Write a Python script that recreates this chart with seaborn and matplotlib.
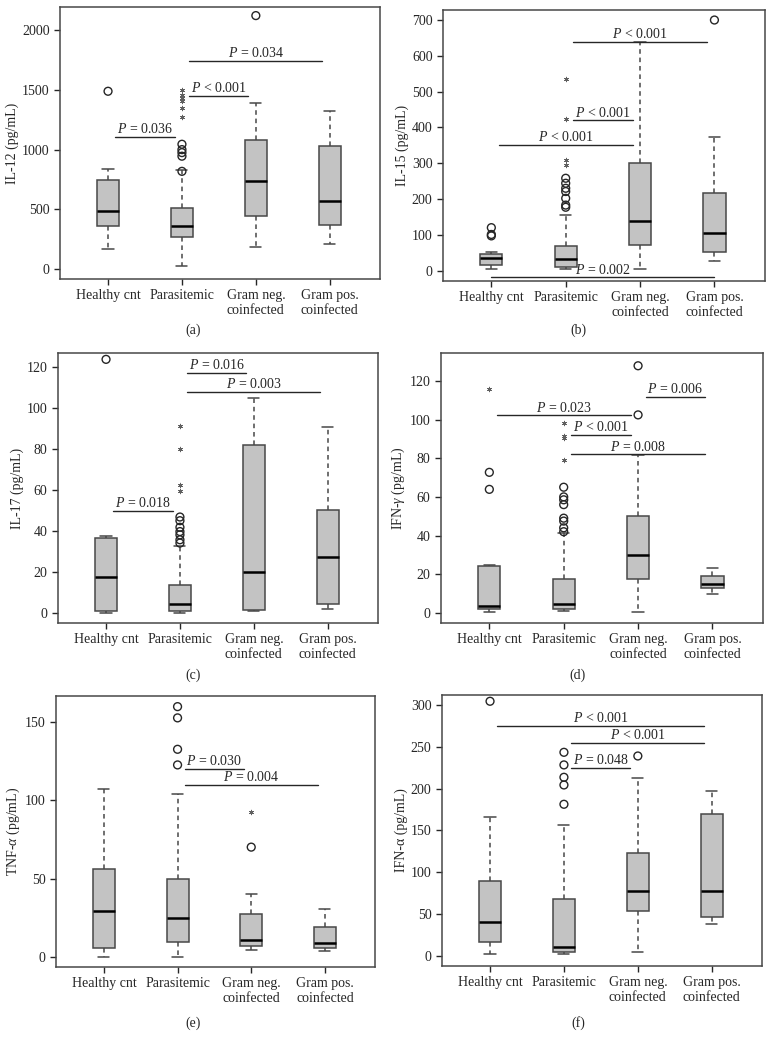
import numpy as np
import pandas as pd
import seaborn as sns
import matplotlib
matplotlib.use('Agg')
import matplotlib.pyplot as plt

groups = ['Healthy cnt', 'Parasitemic', 'Gram neg.\ncoinfected', 'Gram pos.\ncoinfected']

# five-number summaries per group: min, Q1, median, Q3, max
il12_box = [[168, 358, 486, 749, 838],
            [22, 265, 360, 508, 832],
            [184, 447, 740, 1084, 1391],
            [212, 369, 573, 1028, 1327]]
il12_out = [[1489], [818, 945, 975, 1000, 1045], [2123], []]
il12_ext = [[], [1274, 1348, 1405, 1433, 1461, 1503], [], []]
il12_sig = [(0, 1, 1106, '$P$ = 0.036'), (1, 2, 1453, '$P$ < 0.001'), (1, 3, 1743, '$P$ = 0.034')]

il15_box = [[4, 16, 36, 46, 51],
            [4, 11, 32, 70, 155],
            [4, 71, 138, 300, 638],
            [26, 51, 104, 217, 373]]
il15_out = [[97, 101, 120], [177, 183, 202, 221, 230, 244, 258], [], [700]]
il15_ext = [[], [295, 309, 423, 535], [], []]
il15_sig = [(1, 3, 640, '$P$ < 0.001'), (1, 2, 420, '$P$ < 0.001'), (0, 2, 351, '$P$ < 0.001'),
            (0, 3, -19, '$P$ = 0.002')]

il17_box = [[0, 0.8, 17.4, 36.5, 37.6],
            [0, 0.8, 4.4, 13.5, 32.6],
            [0.8, 1.6, 20.1, 81.7, 104.9],
            [1.9, 4.4, 27.1, 50.4, 90.6]]
il17_out = [[123.7], [34.1, 35.7, 38.1, 39.7, 41.8, 45.0, 46.8], [], []]
il17_ext = [[], [59.5, 62.6, 80.1, 91.2], [], []]
il17_sig = [(0, 1, 49.9, '$P$ = 0.018'), (1, 2, 117, '$P$ = 0.016'), (1, 3, 108, '$P$ = 0.003')]

ifng_box = [[0.5, 1.9, 3.6, 24.4, 25.0],
            [0.9, 2.1, 4.8, 17.6, 41.5],
            [0.5, 17.3, 30.2, 50.1, 81.7],
            [9.7, 13.1, 15.2, 19.0, 23.0]]
ifng_out = [[63.9, 72.7], [42.0, 44.0, 47.5, 49.0, 56.0, 58.5, 60.0, 65.0], [102.4, 127.8], []]
ifng_ext = [[115.7], [79.1, 90.2, 91.5, 98.4], [], []]
ifng_sig = [(0, 2, 102.2, '$P$ = 0.023'), (1, 2, 92, '$P$ < 0.001'), (1, 3, 82, '$P$ = 0.008'),
            (2, 3, 111.9, '$P$ = 0.006')]

tnfa_box = [[0, 5.5, 29.2, 56.0, 107.2],
            [0, 9.4, 24.5, 49.6, 104.2],
            [4.5, 6.8, 10.4, 27.3, 40.0],
            [3.4, 5.3, 8.5, 18.7, 30.7]]
tnfa_out = [[], [122.7, 132.7, 152.8, 160.0], [70.1], []]
tnfa_ext = [[], [], [92.7], []]
tnfa_sig = [(1, 2, 120, '$P$ = 0.030'), (1, 3, 110, '$P$ = 0.004')]

ifna_box = [[2, 16.8, 40.7, 89.8, 166.4],
            [2, 4.8, 10.8, 67.8, 156.4],
            [4.8, 53.5, 77.0, 123.3, 212.7],
            [38.3, 46.3, 77.4, 170.0, 196.7]]
ifna_out = [[304.5], [181.2, 204.3, 213.5, 228.3, 243.4], [239.0], []]
ifna_ext = [[], [], [], []]
ifna_sig = [(0, 3, 275, '$P$ < 0.001'), (1, 3, 255, '$P$ < 0.001'), (1, 2, 224.7, '$P$ = 0.048')]

sns.set_theme(style='ticks')
plt.rcParams['font.family'] = ['Liberation Serif', 'DejaVu Serif']
plt.rcParams['mathtext.fontset'] = 'custom'
plt.rcParams['mathtext.rm'] = 'Liberation Serif'
plt.rcParams['mathtext.it'] = 'Liberation Serif:italic'
fs = 10
plt.rcParams['font.size'] = fs

fill = '#c3c3c3'
edge = '#484848'
ink = '#262626'

W, H = 770, 1049
fig = plt.figure(figsize=(W / 100, H / 100), dpi=100)


def panel(rect, box, out, ext, sig, ylim, yticks, ylabel, tag, tag_pos):
    l, r, t, b = rect
    ax = fig.add_axes([l / W, 1 - b / H, (r - l) / W, (b - t) / H])
    df = pd.DataFrame({'group': np.repeat(groups, 5), 'value': np.ravel(box)})
    sns.boxplot(data=df, x='group', y='value', order=groups, ax=ax, width=0.3,
                whis=(0, 100), color=fill, saturation=1, linecolor=edge, linewidth=1.1,
                showfliers=False,
                whiskerprops={'linestyle': (0, (3, 2.5))},
                medianprops={'color': 'black', 'linewidth': 1.8})
    ox = [i for i, vals in enumerate(out) for v in vals]
    oy = [v for vals in out for v in vals]
    if oy:
        sns.scatterplot(x=ox, y=oy, ax=ax, marker='o', s=32, facecolor='none',
                        edgecolor=ink, linewidth=1.0, zorder=5)
    ex = [i for i, vals in enumerate(ext) for v in vals]
    ey = [v for vals in ext for v in vals]
    if ey:
        sns.scatterplot(x=ex, y=ey, ax=ax, marker=(6, 2, 0), s=11, color='#606060',
                        edgecolor='#606060', linewidth=0.6, zorder=5)
    for i, j, y, label in sig:
        pad = 0 if (i, j) == (0, 3) and y < 0 else 0.1
        ax.plot([i + pad, j - pad], [y, y], color=ink, lw=1.0)
        ax.annotate(label, ((i + j) / 2, y), xytext=(0, 0.5), textcoords='offset points',
                    ha='center', va='bottom', color=ink, fontsize=fs)
    ax.set_xlim(-0.65, 3.68)
    ax.set_ylim(*ylim)
    ax.set_yticks(yticks)
    ax.set_xlabel('')
    ax.set_ylabel(ylabel, color=ink, fontsize=fs, labelpad=2)
    for s in ax.spines.values():
        s.set_visible(True)
        s.set_color(edge)
        s.set_linewidth(1.1)
    ax.tick_params(colors=ink, labelcolor=ink, length=4, width=1.0, labelsize=fs)
    for lab in ax.get_xticklabels():
        lab.set_multialignment('center')
    fig.text(tag_pos[0] / W, 1 - tag_pos[1] / H, tag, ha='center', va='center',
             color=ink, fontsize=fs)
    return ax


panel((60, 380, 7, 279), il12_box, il12_out, il12_ext, il12_sig, (-84, 2195),
      range(0, 2001, 500), 'IL-12 (pg/mL)', '(a)', (193, 330))
panel((443, 765, 10, 281), il15_box, il15_out, il15_ext, il15_sig, (-29, 728),
      range(0, 701, 100), 'IL-15 (pg/mL)', '(b)', (578, 330))
panel((58, 378, 353, 623), il17_box, il17_out, il17_ext, il17_sig, (-4.9, 126.8),
      range(0, 121, 20), 'IL-17 (pg/mL)', '(c)', (193, 675))
panel((441, 763, 353, 623), ifng_box, ifng_out, ifng_ext, ifng_sig, (-5.2, 134.4),
      range(0, 121, 20), r'IFN-$\gamma$ (pg/mL)', '(d)', (578, 675))
panel((56, 375, 696, 967), tnfa_box, tnfa_out, tnfa_ext, tnfa_sig, (-6.6, 166.8),
      range(0, 151, 50), r'TNF-$\alpha$ (pg/mL)', '(e)', (193, 1023))
panel((442, 762, 695, 966), ifna_box, ifna_out, ifna_ext, ifna_sig, (-12.4, 312),
      range(0, 301, 50), 'IFN-α (pg/mL)', '(f)', (578, 1023))

fig.savefig('out.png', dpi=100)
